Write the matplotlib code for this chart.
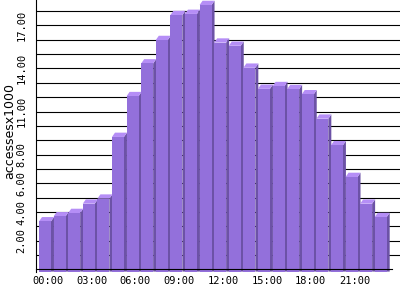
import matplotlib
matplotlib.use("Agg")
import matplotlib.pyplot as plt
from matplotlib.patches import Polygon

hours = ["%02d:00" % h for h in range(24)]
values = [3.35, 3.7, 3.93, 4.58, 4.93, 9.23, 12.07, 14.35, 15.98, 17.72, 17.8, 18.42,
          15.8, 15.58, 14.05, 12.58, 12.77, 12.56, 12.2, 10.5, 8.65, 6.44, 4.58, 3.65]
ytick_vals = [2, 4, 6, 8, 11, 14, 17]
ytick_labels = ["2.00", "4.00", "6.00", "8.00", "11.00", "14.00", "17.00"]
xtick_idx = [0, 3, 6, 9, 12, 15, 18, 21]
ylabel = "accessesx1000"

front = "#9370DB"
side = "#6C52A6"
top = "#B58EF6"

fig = plt.figure(figsize=(4, 3), dpi=100)
ax = fig.add_axes([36 / 400, 28.4 / 300, 364 / 400, 271.6 / 300])

w = 0.82
dx = 0.205
dy = 0.30
x = list(range(len(values)))

for i, v in zip(x, values):
    left = i - w / 2
    right = i + w / 2
    # side face
    ax.add_patch(Polygon([(right, -0.15), (right + dx, -0.15), (right + dx, v + dy), (right, v)],
                         closed=True, facecolor=side, edgecolor="none", zorder=3))
    # top face
    ax.add_patch(Polygon([(left, v), (right, v), (right + dx, v + dy), (left + dx, v + dy)],
                         closed=True, facecolor=top, edgecolor="none", zorder=3))
ax.bar(x, [v + 0.15 for v in values], bottom=-0.15, width=w, color=front, zorder=3, linewidth=0)

ax.set_xlim(-0.616, 24.32)
ax.set_ylim(-0.15, 18.77)

for g in range(1, 19):
    ax.axhline(g, color="black", linewidth=0.8, zorder=1)

ax.spines["top"].set_visible(False)
ax.spines["right"].set_visible(False)
ax.spines["bottom"].set_position(("data", 0))
ax.spines["bottom"].set_bounds(-0.616, 23.77)
ax.spines["bottom"].set_zorder(4)
ax.spines["left"].set_linewidth(0.8)
ax.spines["bottom"].set_linewidth(0.8)

ax.set_xticks([i + 0.2 for i in xtick_idx])
ax.set_xticklabels([hours[i] for i in xtick_idx], family="DejaVu Sans Mono", fontsize=7.5)
ax.set_yticks(ytick_vals)
ax.set_yticklabels(ytick_labels, family="DejaVu Sans Mono", fontsize=7.5, rotation=90, va="center")
ax.tick_params(axis="both", length=0)
ax.tick_params(axis="x", pad=5)
ax.tick_params(axis="y", pad=7)

fig.text(10 / 400, (300 - 131) / 300, ylabel, rotation=90, ha="center", va="center",
         family="DejaVu Sans", fontsize=9)

fig.savefig("out.png", dpi=100)
